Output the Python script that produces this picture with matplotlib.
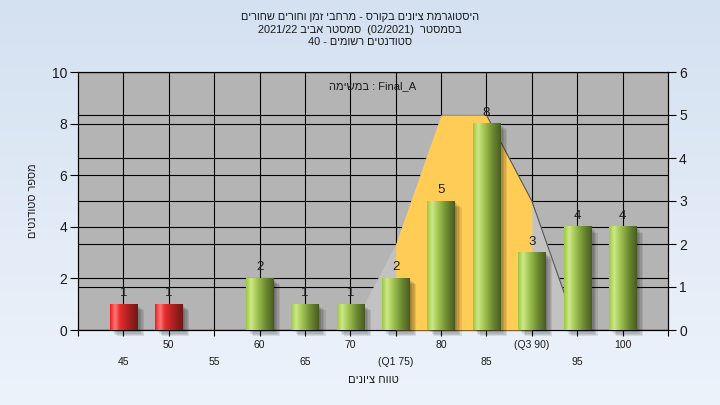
import re
import numpy as np
import matplotlib
matplotlib.use('Agg')
import matplotlib.pyplot as plt
from matplotlib.patches import Rectangle

plt.rcParams['font.family'] = ['Liberation Sans', 'DejaVu Sans']

# ---------------- data ----------------
grades = [45, 50, 55, 60, 65, 70, 75, 80, 85, 90, 95, 100]
tick_labels = ['45', '50', '55', '60', '65', '70', '(Q1 75)', '80', '85', '(Q3 90)', '95', '100']
counts = [1, 1, 0, 2, 1, 1, 2, 5, 8, 3, 4, 4]
pass_grade = 55
curve_grades = [70, 75, 80, 85, 90, 95]
curve_vals = [0, 2, 5, 5, 3, 0]
q1_grade, q3_grade = 75, 90
left_ticks = [0, 2, 4, 6, 8, 10]
right_ticks = [0, 1, 2, 3, 4, 5, 6]

title_lines = ['היסטוגרמת ציונים בקורס - מרחבי זמן וחורים שחורים',
               'בסמסטר  (02/2021)  סמסטר אביב 2021/22',
               'סטודנטים רשומים - 40']
task_text = 'Final_A : במשימה'
xlabel = 'טווח ציונים'
ylabel = 'מספר סטודנטים'


def rtl(s):
    """Convert logical-order Hebrew text to visual order for LTR rendering."""
    r = s[::-1]
    r = re.sub(r'[A-Za-z0-9_/.]+', lambda m: m.group(0)[::-1], r)
    return r.translate(str.maketrans('()', ')('))


W, H = 720, 405
fig = plt.figure(figsize=(W / 100, H / 100), dpi=100)

# background gradient
bg = fig.add_axes([0, 0, 1, 1], zorder=-5)
top = np.array([212, 225, 241]) / 255
bot = np.array([237, 243, 251]) / 255
t = np.linspace(0, 1, 256)[:, None]
grad = top[None, :] * (1 - t) + bot[None, :] * t
bg.imshow(grad[:, None, :].repeat(2, axis=1), aspect='auto', extent=(0, 1, 0, 1))
bg.set_axis_off()

L, B = 78 / W, (H - 330) / H
AW, AH = 590 / W, 258 / H
ax = fig.add_axes([L, B, AW, AH])
ax.set_facecolor('#b4b4b4')
x_idx = np.arange(len(grades))

# left axis grid and ticks
ax.set_xlim(-1, len(grades))
ax.set_ylim(0, 10)
ax.set_yticks(left_ticks)
ax.set_xticks(np.arange(-1, len(grades) + 1))
ax.set_xticklabels([])
for y in left_ticks:
    ax.axhline(y, color='black', lw=0.8, zorder=0.5)
for x in x_idx:
    ax.axvline(x, color='black', lw=0.8, zorder=0.5)
ax.tick_params(axis='y', direction='out', length=6, width=0.8, labelsize=10,
               labelcolor='#1a1a1a', pad=2)
ax.tick_params(axis='x', direction='out', length=4, width=0.8)
for s in ax.spines.values():
    s.set_color('black')
    s.set_linewidth(0.8)

# right axis with curve
ax_r = ax.twinx()
ax_r.set_ylim(0, 6)
ax_r.set_yticks(right_ticks)
ax_r.set_axisbelow(True)
ax_r.yaxis.grid(True, color='black', lw=0.8)
ax_r.tick_params(axis='y', direction='out', length=6, width=0.8, labelsize=10,
                 labelcolor='#1a1a1a', pad=2)
for s in ax_r.spines.values():
    s.set_color('black')
    s.set_linewidth(0.8)

cx = np.array([grades.index(g) for g in curve_grades])
cv = np.array(curve_vals)
ax_r.fill_between(cx, 0, cv, color='#c2c2c2', lw=0, zorder=2)
qmask = (np.array(curve_grades) >= q1_grade) & (np.array(curve_grades) <= q3_grade)
ax_r.fill_between(cx[qmask], 0, cv[qmask], color='#ffcc55', lw=0, zorder=3)
peak = int(np.argmax(cv)) + 1
ax_r.plot(cx[peak:], cv[peak:], color='#555555', lw=0.8, zorder=4)

# bars
ax_b = ax.twinx()
ax_b.set_ylim(0, 10)
ax_b.set_axis_off()
bw = 0.6


def make_grad(stops):
    pos = np.array([p for p, _ in stops])
    cols = np.array([c for _, c in stops]) / 255
    xs = np.linspace(0, 1, 64)
    arr = np.stack([np.interp(xs, pos, cols[:, k]) for k in range(3)], axis=-1)
    return arr[None, :, :]


green = make_grad([(0, (158, 200, 62)), (0.18, (205, 232, 140)), (0.35, (170, 205, 90)),
                   (0.7, (110, 140, 50)), (1, (72, 92, 35))])
red = make_grad([(0, (235, 30, 30)), (0.18, (255, 120, 120)), (0.35, (230, 45, 45)),
                 (0.7, (165, 30, 30)), (1, (110, 25, 25))])

px_x = 1 / 45.4   # one pixel in category units
px_y = 10 / 258    # one pixel in count units
for i, (g, c) in enumerate(zip(grades, counts)):
    if c <= 0:
        continue
    for k in range(1, 6):
        ax_b.add_patch(Rectangle((i - bw / 2 + k * 1.4 * px_x, -k * 1.2 * px_y), bw, c,
                                 facecolor='black', alpha=0.09, lw=0, zorder=3,
                                 clip_on=False))
    img = red if g < pass_grade else green
    ax_b.imshow(img, extent=(i - bw / 2, i + bw / 2, 0, c), aspect='auto',
                interpolation='bilinear', zorder=4)
    ax_b.annotate(str(c), xy=(i, c), xytext=(0, 11), textcoords='offset pixels',
                  ha='center', va='center', fontsize=9.5, color='#1e1e1e', zorder=5)

ax_b.set_xlim(-1, len(grades))
ax_b.set_ylim(0, 10)

# x tick labels in two rows
for i, lab in enumerate(tick_labels):
    off = -15 if i % 2 == 1 else -32
    ax.annotate(lab, xy=(i, 0), xycoords=('data', 'axes fraction'), xytext=(0, off),
                textcoords='offset pixels', ha='center', va='center', fontsize=7.5,
                color='#1a1a1a', annotation_clip=False)

# texts
ax_b.text(0.5, 1 - 14 / 258, rtl(task_text), transform=ax.transAxes, ha='center',
          va='center', fontsize=8, color='#1a1a1a', zorder=6)
fig.text(373 / W, 1 - 380 / H, rtl(xlabel), ha='center', va='center', fontsize=8,
         color='#1a1a1a')
fig.text(33 / W, 1 - 201 / H, rtl(ylabel), ha='center', va='center', rotation=90,
         fontsize=7.8, color='#1a1a1a')
for y, line in zip([17, 30, 42], title_lines):
    fig.text(0.5, 1 - y / H, rtl(line), ha='center', va='center', fontsize=7.9,
             color='#1a1a1a')

fig.savefig('out.png', dpi=100)
